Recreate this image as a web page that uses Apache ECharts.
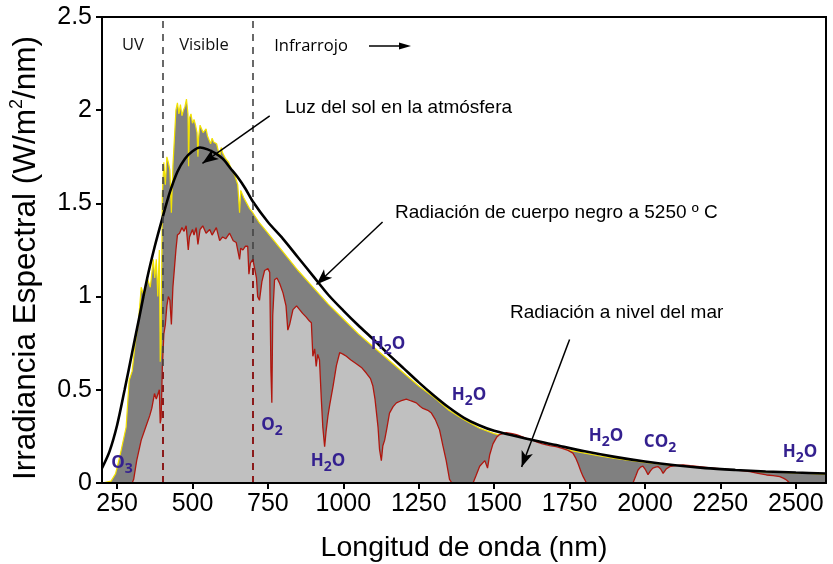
<!DOCTYPE html>
<html><head><meta charset="utf-8">
<script src="https://cdn.jsdelivr.net/npm/echarts@6/dist/echarts.min.js"></script>
<style>html,body{margin:0;padding:0;background:#fff}#c{width:833px;height:564px}</style>
</head><body><div id="c"></div>
<script>
// ---- axis ticks ----
const xTicks = [250, 500, 750, 1000, 1250, 1500, 1750, 2000, 2250, 2500];
const yTicks = [0, 0.5, 1, 1.5, 2, 2.5];
const regionBounds = [400, 700];

// ---- black body curve (5250 ºC) ----
const bbWave  = [200, 225, 250, 275, 300, 325, 350, 375, 400, 425, 450, 475, 500, 525, 550, 575, 600, 625, 650, 675, 700, 750, 800, 850, 900, 950, 1000, 1050, 1100, 1150, 1200, 1250, 1300, 1350, 1400, 1450, 1500, 1600, 1700, 1800, 1900, 2000, 2100, 2200, 2300, 2400, 2500, 2600];
const bbValue = [0.08, 0.17, 0.31, 0.5, 0.7, 0.9, 1.1, 1.27, 1.42, 1.56, 1.67, 1.74, 1.78, 1.80, 1.79, 1.77, 1.74, 1.69, 1.64, 1.58, 1.51, 1.40, 1.31, 1.21, 1.11, 1.01, 0.925, 0.845, 0.77, 0.69, 0.615, 0.54, 0.47, 0.405, 0.35, 0.31, 0.28, 0.24, 0.205, 0.17, 0.14, 0.115, 0.095, 0.08, 0.07, 0.062, 0.056, 0.051];

// ---- sunlight at top of atmosphere ----
const toaWave  = [200, 230, 245, 260, 280, 290, 300, 310, 320, 330, 340, 350, 360, 370, 375, 380, 385, 390, 393, 396, 400, 405, 410, 415, 420, 425, 430, 435, 440, 445, 450, 455, 460, 465, 470, 475, 480, 485, 487, 490, 495, 500, 505, 510, 515, 518, 520, 525, 530, 535, 540, 545, 550, 555, 560, 565, 570, 575, 580, 585, 590, 595, 600, 610, 620, 630, 640, 650, 656, 660, 670, 680, 690, 700, 720, 740, 760, 780, 800, 850, 900, 950, 1000, 1050, 1100, 1150, 1200, 1250, 1300, 1350, 1400, 1450, 1500, 1550, 1600, 1650, 1700, 1750, 1800, 1850, 1900, 2000, 2100, 2200, 2300, 2400, 2500, 2600];
const toaValue = [0.0, 0.01, 0.05, 0.15, 0.3, 0.55, 0.6, 0.75, 0.85, 1.05, 1.0, 1.1, 1.05, 1.2, 1.1, 1.2, 1.0, 1.25, 0.65, 0.75, 1.55, 1.72, 1.6, 1.75, 1.72, 1.68, 1.45, 1.7, 1.85, 2.0, 2.04, 1.98, 2.03, 1.97, 2.0, 2.02, 2.06, 1.98, 1.7, 1.96, 1.98, 1.93, 1.95, 1.92, 1.88, 1.75, 1.85, 1.92, 1.9, 1.88, 1.87, 1.9, 1.86, 1.87, 1.82, 1.85, 1.83, 1.84, 1.82, 1.82, 1.75, 1.8, 1.77, 1.74, 1.72, 1.68, 1.65, 1.6, 1.45, 1.57, 1.53, 1.5, 1.47, 1.45, 1.40, 1.36, 1.32, 1.28, 1.24, 1.14, 1.05, 0.96, 0.88, 0.80, 0.73, 0.66, 0.59, 0.52, 0.46, 0.39, 0.34, 0.295, 0.265, 0.245, 0.225, 0.205, 0.19, 0.175, 0.16, 0.145, 0.132, 0.11, 0.093, 0.079, 0.068, 0.06, 0.054, 0.048];

// ---- radiation at sea level ----
const seaWave  = [280, 300, 305, 315, 330, 345, 358, 365, 374, 380, 385, 390, 393, 396, 400, 405, 410, 415, 420, 425, 430, 435, 440, 445, 450, 457, 465, 472, 479, 486, 490, 500, 505, 512, 518, 525, 534, 545, 557, 565, 579, 590, 600, 610, 623, 635, 645, 656, 660, 667, 675, 683, 687, 692, 700, 706, 712, 716, 722, 730, 739, 750, 756, 760, 763, 766, 772, 780, 789, 800, 810, 816, 822, 833, 845, 855, 865, 877, 887, 894, 899, 905, 910, 915, 921, 927, 932, 938, 943, 949, 955, 966, 977, 988, 1000, 1010, 1025, 1043, 1060, 1076, 1090, 1098, 1105, 1115, 1120, 1126, 1131, 1137, 1145, 1153, 1165, 1176, 1190, 1209, 1225, 1242, 1255, 1264, 1280, 1292, 1305, 1319, 1330, 1341, 1352, 1360, 1430, 1440, 1452, 1469, 1478, 1485, 1496, 1508, 1518, 1540, 1560, 1574, 1590, 1607, 1620, 1640, 1660, 1684, 1705, 1728, 1745, 1761, 1770, 1778, 1788, 1795, 1806, 1960, 1970, 1977, 1985, 1993, 2002, 2010, 2018, 2026, 2035, 2043, 2052, 2060, 2070, 2082, 2100, 2126, 2150, 2181, 2210, 2237, 2265, 2292, 2320, 2347, 2375, 2403, 2425, 2447, 2460, 2469, 2480, 2600];
const seaValue = [0, 0, 0.02, 0.12, 0.23, 0.3, 0.36, 0.4, 0.48, 0.45, 0.45, 0.5, 0.32, 0.35, 0.62, 0.8, 0.85, 0.95, 1.0, 0.98, 0.85, 1.05, 1.15, 1.25, 1.33, 1.34, 1.37, 1.35, 1.38, 1.25, 1.32, 1.36, 1.33, 1.37, 1.28, 1.36, 1.38, 1.34, 1.36, 1.33, 1.37, 1.3, 1.32, 1.31, 1.34, 1.30, 1.29, 1.2, 1.26, 1.25, 1.27, 1.27, 1.12, 1.18, 1.2, 1.19, 1.1, 1.0, 0.98, 1.08, 1.14, 1.15, 1.13, 0.6, 0.43, 0.9, 1.09, 1.1, 1.07, 1.02, 0.95, 0.82, 0.85, 0.93, 0.95, 0.93, 0.91, 0.89, 0.87, 0.86, 0.68, 0.72, 0.625, 0.69, 0.66, 0.45, 0.3, 0.195, 0.28, 0.36, 0.42, 0.52, 0.63, 0.70, 0.69, 0.68, 0.66, 0.64, 0.62, 0.59, 0.56, 0.52, 0.45, 0.30, 0.18, 0.12, 0.2, 0.23, 0.3, 0.375, 0.41, 0.43, 0.44, 0.45, 0.44, 0.43, 0.41, 0.40, 0.39, 0.375, 0.34, 0.285, 0.2, 0.12, 0.02, 0, 0, 0.04, 0.09, 0.12, 0.08, 0.15, 0.21, 0.245, 0.26, 0.27, 0.265, 0.26, 0.25, 0.24, 0.235, 0.22, 0.21, 0.20, 0.195, 0.185, 0.175, 0.16, 0.135, 0.105, 0.06, 0.034, 0, 0, 0.04, 0.07, 0.085, 0.09, 0.07, 0.045, 0.065, 0.08, 0.085, 0.088, 0.075, 0.052, 0.075, 0.088, 0.093, 0.097, 0.093, 0.088, 0.083, 0.079, 0.074, 0.07, 0.066, 0.061, 0.052, 0.043, 0.04, 0.034, 0.025, 0.016, 0, 0];

// sea-level height reached by dashed region markers
const seaAtBounds = [0.62, 1.2];

// ---- annotations ----
const bandLabels = ['UV', 'Visible', 'Infrarrojo'];
const noteTexts = ['Luz del sol en la atmósfera', 'Radiación de cuerpo negro a 5250 º C', 'Radiación a nivel del mar'];
// arrows in data coordinates: [from, to]
const noteArrows = [
  [[756, 1.97], [533, 1.715]],
  [[1130, 1.40], [911, 1.065]],
  [[1750, 0.77], [1591, 0.086]]
];

const zip = (a, b) => a.map((v, i) => [v, b[i]]);

const chart = echarts.init(document.getElementById('c'), null, {renderer: 'canvas'});
const FONT = '"Liberation Sans", Arial, sans-serif';
const MOL = '#34208f';

function mol(base, sub, tail, x, y) {
  return {
    type: 'text', x: x, y: y, z: 100,
    style: {
      text: '{m|' + base + '}{s|' + sub + '}{m|' + tail + '}',
      align: 'center', verticalAlign: 'middle',
      rich: {
        m: {fontFamily: '"Open Sans", sans-serif', fontWeight: 'bold', fontSize: 17, fill: MOL, color: MOL, lineHeight: 27},
        s: {fontFamily: '"Open Sans", sans-serif', fontWeight: 'bold', fontSize: 14, fill: MOL, color: MOL, verticalAlign: 'bottom'}
      }
    }
  };
}

const option = {
  animation: false,
  backgroundColor: '#fff',
  grid: {left: 102, right: 7, top: 17, bottom: 81, show: true, borderColor: '#000', borderWidth: 2, backgroundColor: 'transparent', z: 10, containLabel: false, outerBoundsMode: 'none'},
  xAxis: {
    type: 'value', min: 200, max: 2600,
    axisLine: {show: true, lineStyle: {color: '#000', width: 2}},
    axisTick: {show: true, customValues: xTicks, length: 6, lineStyle: {color: '#000', width: 2}},
    axisLabel: {customValues: xTicks, color: '#000', fontSize: 25, fontFamily: FONT, margin: 9, formatter: v => String(v)},
    splitLine: {show: false},
    name: 'Longitud de onda (nm)', nameLocation: 'middle', nameGap: 51,
    nameTextStyle: {color: '#000', fontSize: 28.5, fontFamily: FONT}
  },
  yAxis: {
    type: 'value', min: 0, max: 2.5, interval: 0.5,
    axisLine: {show: true, lineStyle: {color: '#000', width: 2}},
    axisTick: {show: true, length: 6, lineStyle: {color: '#000', width: 2}},
    axisLabel: {color: '#000', fontSize: 25, fontFamily: FONT, margin: 10},
    splitLine: {show: false},
    name: '{a|Irradiancia Espectral (W/m}{s|2}{a|/nm)}', nameLocation: 'middle', nameGap: 58,
    nameTextStyle: {
      color: '#000', fontFamily: FONT, padding: [0, 16, 0, 0],
      rich: {
        a: {fontSize: 31.5, fontFamily: FONT, color: '#000', lineHeight: 36},
        s: {fontSize: 18, fontFamily: FONT, color: '#000', verticalAlign: 'top'}
      }
    }
  },
  series: [
    {
      name: 'toa', type: 'line', data: zip(toaWave, toaValue), showSymbol: false, z: 2,
      lineStyle: {color: '#f2e200', width: 1.2},
      areaStyle: {color: '#808080', opacity: 1},
      markLine: {
        silent: true, symbol: ['none', 'none'], label: {show: false},
        lineStyle: {color: '#444', width: 1.6, type: [7, 6]},
        data: regionBounds.map(b => [{coord: [b, 0]}, {coord: [b, 2.5]}])
      }
    },
    {
      name: 'sea', type: 'line', data: zip(seaWave, seaValue), showSymbol: false, z: 3,
      lineStyle: {color: '#b0170f', width: 1.3},
      areaStyle: {color: '#c0c0c0', opacity: 1},
      markLine: {
        silent: true, symbol: ['none', 'none'], label: {show: false},
        lineStyle: {color: '#8b1a1a', width: 2, type: [7, 6]},
        data: regionBounds.map((b, i) => [{coord: [b, 0]}, {coord: [b, seaAtBounds[i]]}])
      }
    },
    {
      name: 'bb', type: 'line', data: zip(bbWave, bbValue), showSymbol: false, smooth: 0.3, z: 4,
      lineStyle: {color: '#000', width: 2.6},
      markLine: {
        silent: true, symbol: ['none', 'arrow'], symbolSize: [9, 16], label: {show: false},
        lineStyle: {color: '#000', width: 1.5, type: 'solid'},
        data: noteArrows.map(a => [{coord: a[0]}, {coord: a[1]}])
      }
    }
  ],
  graphic: [
    {type: 'text', x: 133, y: 45, style: {text: bandLabels[0], font: '16.5px "Open Sans", sans-serif', fill: '#111', align: 'center', verticalAlign: 'middle'}},
    {type: 'text', x: 204, y: 45, style: {text: bandLabels[1], font: '16.5px "Open Sans", sans-serif', fill: '#111', align: 'center', verticalAlign: 'middle'}},
    {type: 'text', x: 311, y: 46, style: {text: bandLabels[2], font: '16.5px "Open Sans", sans-serif', fill: '#000', align: 'center', verticalAlign: 'middle'}},
    {type: 'line', shape: {x1: 369, y1: 46, x2: 403, y2: 46}, style: {stroke: '#000', lineWidth: 1.5}},
    {type: 'polygon', shape: {points: [[399, 42.5], [411, 46], [399, 49.5]]}, style: {fill: '#000'}},
    {type: 'text', x: 285, y: 108, style: {text: noteTexts[0], font: '19px ' + FONT, fill: '#000', align: 'left', verticalAlign: 'middle'}},
    {type: 'text', x: 395, y: 213, style: {text: noteTexts[1], font: '19px ' + FONT, fill: '#000', align: 'left', verticalAlign: 'middle'}},
    {type: 'text', x: 510, y: 313, style: {text: noteTexts[2], font: '19px ' + FONT, fill: '#000', align: 'left', verticalAlign: 'middle'}},
    mol('O', '3', '', 122, 463),
    mol('O', '2', '', 272, 425),
    mol('H', '2', 'O', 328, 461),
    mol('H', '2', 'O', 388, 344),
    mol('H', '2', 'O', 469, 395),
    mol('H', '2', 'O', 606, 436),
    mol('CO', '2', '', 660, 442),
    mol('H', '2', 'O', 800, 452)
  ]
};
chart.setOption(option);
</script>
</body></html>
